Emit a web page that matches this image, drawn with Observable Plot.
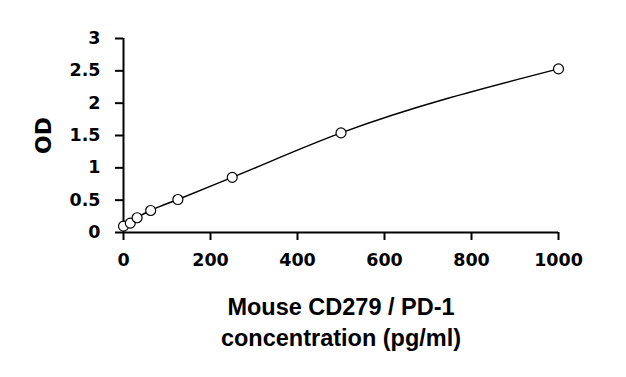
<!DOCTYPE html>
<html>
<head>
<meta charset="utf-8">
<script src="https://cdn.jsdelivr.net/npm/d3@7"></script>
<script src="https://cdn.jsdelivr.net/npm/@observablehq/plot@0.6"></script>
<style>
  html, body { margin: 0; padding: 0; background: white; }
</style>
</head>
<body>
<div id="chart"></div>
<script>
const concentration = [0, 15.625, 31.25, 62.5, 125, 250, 500, 1000];
const od = [0.098, 0.145, 0.228, 0.34, 0.51, 0.853, 1.54, 2.53];
const xTicks = [0, 200, 400, 600, 800, 1000];
const yTicks = [0, 0.5, 1, 1.5, 2, 2.5, 3];
const yTitle = "OD";
const xTitle = "Mouse CD279 / PD-1\nconcentration (pg/ml)";

const data = concentration.map((c, i) => ({c, od: od[i]}));

const chart = Plot.plot({
  width: 626,
  height: 377,
  marginLeft: 123,
  marginRight: 68,
  marginTop: 38,
  marginBottom: 145,
  style: {background: "white", color: "black"},
  x: {domain: [0, 1000]},
  y: {domain: [0, 3]},
  marks: [
    Plot.axisY({ticks: yTicks, tickSize: 8, tickPadding: 15, strokeWidth: 2,
      fontSize: 17.5, fontWeight: "bold", fontFamily: "DejaVu Sans",
      tickFormat: d => String(d), label: null}),
    Plot.axisX({ticks: xTicks, tickSize: 8, tickPadding: 13, strokeWidth: 2,
      fontSize: 17.5, fontWeight: "bold", fontFamily: "DejaVu Sans",
      tickFormat: d => String(d), label: null}),
    Plot.ruleX([0], {y1: 0, y2: 3, strokeWidth: 2}),
    Plot.ruleY([0], {x1: 0, x2: 1000, strokeWidth: 2}),
    Plot.line(data, {x: "c", y: "od", curve: "monotone-x", strokeWidth: 1.5, stroke: "black"}),
    Plot.dot(data, {x: "c", y: "od", r: 5, stroke: "black", fill: "white", strokeWidth: 1.2}),
    Plot.text([yTitle], {frameAnchor: "left", dx: -80, rotate: -90, textAnchor: "middle",
      fontSize: 22, fontWeight: "bold", fontFamily: "DejaVu Sans", fill: "black"}),
    Plot.text([xTitle], {frameAnchor: "bottom", dy: 88, lineAnchor: "middle", lineHeight: 1.33,
      fontSize: 23.5, fontWeight: "bold", fontFamily: "Liberation Sans", fill: "black"})
  ]
});
document.getElementById("chart").appendChild(chart);
</script>
</body>
</html>
